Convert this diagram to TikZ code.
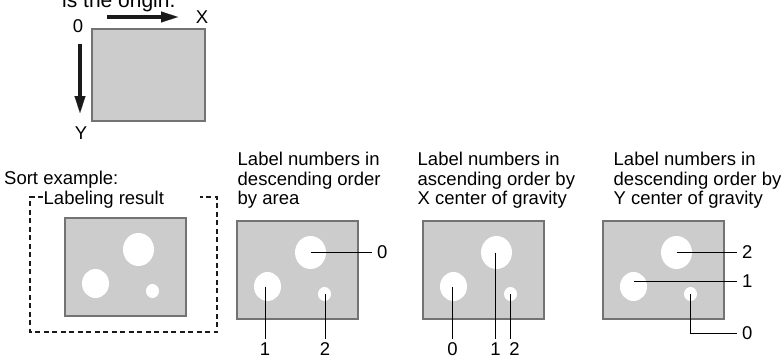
\documentclass[tikz,border=0pt]{standalone}
\usepackage{fontspec}
\setmainfont{Liberation Sans}
\usetikzlibrary{arrows.meta,shapes.geometric}
\definecolor{panelgray}{HTML}{CCCCCC}
\definecolor{bordergray}{HTML}{737373}
\definecolor{inkdark}{HTML}{1A1A1A}
\begin{document}
\begin{tikzpicture}[x=1pt,y=-1pt,
  txt/.style={font=\fontsize{18.5}{19.6}\selectfont, inner sep=0pt, align=left, anchor=north west},
  num/.style={font=\fontsize{18.5}{19.5}\selectfont, inner xsep=5pt, inner ysep=3.5pt},
  axlabel/.style={font=\fontsize{18.5}{19.5}\selectfont, inner sep=0pt},
  panel/.style={draw=bordergray, fill=panelgray, line width=1.6pt, minimum width=121pt, minimum height=98pt, inner sep=0pt},
  blob/.style={ellipse, fill=white, inner sep=0pt},
  bigblob/.style={blob, minimum width=31pt, minimum height=33pt},
  midblob/.style={blob, minimum width=27pt, minimum height=29pt},
  smallblob/.style={blob, minimum width=13pt, minimum height=14pt},
  lead/.style={draw=black, line width=1pt},
  axis/.style={draw=inkdark, line width=4.5pt, -{Triangle[length=17pt,width=11pt,line width=0.01pt]}},
  dashedbox/.style={draw=inkdark, line width=1.7pt, dash pattern=on 5pt off 3.5pt},
]
\useasboundingbox (0,0) rectangle (784,359);
\clip (0,0) rectangle (784,359);

% origin sketch
\node[font=\fontsize{21}{24}\selectfont, anchor=base west, inner sep=0pt] (hdr) at (62,7) {is the origin.};
\node[panel, minimum width=113pt, minimum height=92pt] (org) at (148.5,75) {};
\node[axlabel] (o0) at (78,26) {0};
\node[axlabel] (ox) at (202,17) {X};
\node[axlabel] (oy) at (81,133) {Y};
\coordinate (xa) at (107,17);
\coordinate (xb) at (178,17);
\coordinate (ya) at (80,44);
\coordinate (yb) at (80,113);
\draw[axis] (xa) -- (xb);
\draw[axis] (ya) -- (yb);

% texts
\node[txt] (sortt) at (4,171) {Sort example:};
\node[txt] (labres) at (43.5,191) {Labeling result};
\node[txt] (t1) at (237.5,152) {Label numbers in\\descending order\\by area};
\node[txt] (t2) at (417.5,152) {Label numbers in\\ascending order by\\X center of gravity};
\node[txt] (t3) at (613.5,152) {Label numbers in\\descending order by\\Y center of gravity};

% dashed frame of the labeling result
\draw[dashedbox] (43,197) -- (30,197) -- (30,332) -- (217,332) -- (217,197) -- (200,197);

% panels with blobs
\foreach \n/\x/\y in {0/125.5/267, 1/297.5/270, 2/483.5/270, 3/663.5/270} {
  \node[panel] (p\n) at (\x,\y) {};
  \node[bigblob] (pbig\n) at ([shift={(13,-17.5)}]p\n.center) {};
  \node[midblob] (pmid\n) at ([shift={(-30,16.5)}]p\n.center) {};
  \node[smallblob] (psmall\n) at ([shift={(27,24)}]p\n.center) {};
}

% panel 1: by area
\node[num, anchor=west] (la0) at (372,252.5) {0};
\node[num, anchor=north] (la1) at (265,339) {1};
\node[num, anchor=north] (la2) at (325,339) {2};
\draw[lead] (pbig1.center) -- (pbig1.center -| la0.west);
\draw[lead] (la1.north |- pmid1.center) -- (la1.north);
\draw[lead] (la2.north |- psmall1.center) -- (la2.north);

% panel 2: by X
\node[num, anchor=north] (lb0) at (452.5,339) {0};
\node[num, anchor=north] (lb1) at (495.5,339) {1};
\node[num, anchor=north] (lb2) at (514.5,339) {2};
\draw[lead] (lb0.north |- pmid2.center) -- (lb0.north);
\draw[lead] (lb1.north |- pbig2.center) -- (lb1.north);
\draw[lead] (psmall2.center) -- (psmall2.center |- lb2.north);

% panel 3: by Y
\node[num, anchor=west] (lc2) at (737,252.5) {2};
\node[num, anchor=west] (lc1) at (737,281) {1};
\node[num, anchor=west] (lc0) at (737,333) {0};
\draw[lead] (pbig3.center) -- (pbig3.center -| lc2.west);
\draw[lead] (pmid3.center |- lc1.west) -- (lc1.west);
\draw[lead] (psmall3.center) |- (lc0.west);
\end{tikzpicture}
\end{document}
